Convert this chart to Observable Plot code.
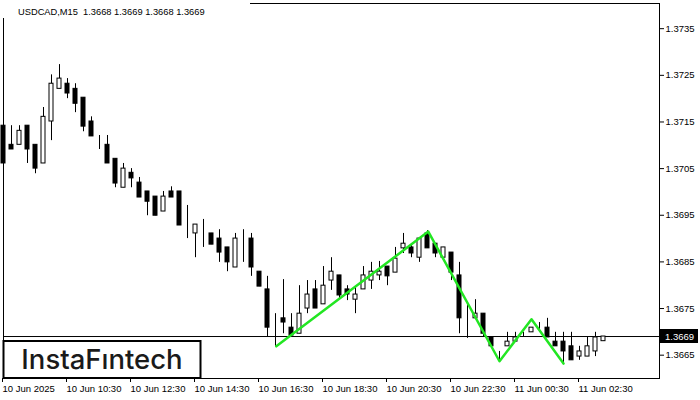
<!DOCTYPE html>
<html><head><meta charset="utf-8">
<script src="https://cdn.jsdelivr.net/npm/d3@7"></script>
<script src="https://cdn.jsdelivr.net/npm/@observablehq/plot@0.6"></script>
<style>
body{margin:0;background:#fff;}
#chart{width:700px;height:400px;position:relative;}
svg{display:block;}
</style>
</head><body><div id="chart"></div>
<script>
// USDCAD M15 candles, index 0 = 10 Jun 08:30, 15 minutes apart
const opens  = [1.37142,1.37101,1.37101,1.37142,1.37101,1.37061,1.37151,1.37221,1.37232,1.37221,
                1.37202,1.37151,1.37112,1.37101,1.37071,1.37009,1.37041,1.37020,1.37001,1.36990,
                1.36958,1.37001,1.37001,1.36919,1.36911,1.36919,1.36911,1.36900,1.36881,1.36838,
                1.36911,1.36900,1.36829,1.36791,1.36720,1.36729,1.36709,1.36696,1.36750,1.36791,
                1.36759,1.36810,1.36821,1.36791,1.36769,1.36791,1.36810,1.36821,1.36840,1.36827,
                1.36879,1.36881,1.36859,1.36911,1.36889,1.36859,1.36870,1.36821,1.36718,1.36729,
                1.36739,1.36688,1.36658,1.36669,1.36679,1.36699,1.36699,1.36720,1.36709,1.36679,
                1.36679,1.36669,1.36647,1.36647,1.36658,1.36680];
const highs  = [1.37142,1.37142,1.37142,1.37142,1.37101,1.37181,1.37251,1.37273,1.37243,1.37232,
                1.37202,1.37161,1.37121,1.37121,1.37071,1.37061,1.37050,1.37031,1.37001,1.36990,
                1.37001,1.37011,1.37001,1.36971,1.36930,1.36941,1.36911,1.36919,1.36881,1.36911,
                1.36919,1.36911,1.36829,1.36819,1.36739,1.36812,1.36739,1.36799,1.36810,1.36810,
                1.36840,1.36859,1.36821,1.36799,1.36795,1.36840,1.36849,1.36851,1.36840,1.36881,
                1.36911,1.36889,1.36900,1.36917,1.36889,1.36881,1.36870,1.36849,1.36761,1.36769,
                1.36739,1.36688,1.36658,1.36699,1.36699,1.36699,1.36709,1.36720,1.36729,1.36699,
                1.36699,1.36699,1.36669,1.36688,1.36699,1.36690];
const lows   = [1.37061,1.37091,1.37101,1.37061,1.37039,1.37061,1.37110,1.37221,1.37200,1.37170,
                1.37129,1.37119,1.37091,1.37061,1.37009,1.37009,1.37009,1.36988,1.36949,1.36949,
                1.36958,1.36988,1.36928,1.36900,1.36859,1.36881,1.36887,1.36849,1.36829,1.36838,
                1.36849,1.36819,1.36797,1.36690,1.36669,1.36696,1.36688,1.36696,1.36739,1.36750,
                1.36759,1.36789,1.36771,1.36767,1.36739,1.36791,1.36791,1.36810,1.36799,1.36827,
                1.36868,1.36859,1.36849,1.36879,1.36859,1.36859,1.36810,1.36696,1.36686,1.36729,
                1.36690,1.36669,1.36639,1.36669,1.36679,1.36688,1.36699,1.36699,1.36688,1.36669,
                1.36634,1.36639,1.36639,1.36647,1.36647,1.36680];
const closes = [1.37061,1.37091,1.37131,1.37091,1.37050,1.37161,1.37232,1.37243,1.37211,1.37189,
                1.37140,1.37119,1.37112,1.37061,1.37018,1.37050,1.37029,1.36988,1.36979,1.36949,
                1.36990,1.36988,1.36928,1.36919,1.36930,1.36919,1.36887,1.36870,1.36849,1.36900,
                1.36911,1.36838,1.36797,1.36709,1.36720,1.36720,1.36692,1.36739,1.36780,1.36750,
                1.36799,1.36829,1.36778,1.36780,1.36780,1.36821,1.36829,1.36829,1.36819,1.36857,
                1.36889,1.36868,1.36900,1.36879,1.36868,1.36881,1.36827,1.36729,1.36718,1.36739,
                1.36696,1.36669,1.36658,1.36679,1.36688,1.36699,1.36709,1.36720,1.36688,1.36669,
                1.36658,1.36639,1.36658,1.36669,1.36688,1.36690];

// x-axis tick positions (candle index) and labels
const xTickIndex  = [0, 8, 16, 24, 32, 40, 48, 56, 64, 72];
const xTickLabels = ["10 Jun 2025","10 Jun 10:30","10 Jun 12:30","10 Jun 14:30","10 Jun 16:30",
                     "10 Jun 18:30","10 Jun 20:30","10 Jun 22:30","11 Jun 00:30","11 Jun 02:30"];
const yTicks = [1.3735, 1.3725, 1.3715, 1.3705, 1.3695, 1.3685, 1.3675, 1.3665];

// pattern (green zig-zag)
const patternIndex = [34.1, 53.1, 62.0, 66.0, 70.0];
const patternPrice = [1.36669, 1.36915, 1.36637, 1.36727, 1.36632];

const lastPrice = 1.3669;
const titleText = "USDCAD,M15  1.3668 1.3669 1.3668 1.3669";

const candles = opens.map((o, i) => ({i, open: o, high: highs[i], low: lows[i], close: closes[i]}));
const pattern = patternIndex.map((x, k) => ({i: x, price: patternPrice[k]}));
const labelOf = new Map(xTickIndex.map((t, k) => [t, xTickLabels[k]]));

const FONT = "'Liberation Sans', Arial, sans-serif";

const plot = Plot.plot({
  width: 700, height: 400,
  marginLeft: 3, marginRight: 41, marginTop: 3, marginBottom: 22,
  style: {fontFamily: FONT, fontSize: "9.5px", background: "white", color: "black"},
  x: {type: "linear", domain: [0, 82]},
  y: {domain: [1.36600, 1.37404]},
  marks: [
    Plot.ruleY([lastPrice], {stroke: "black", strokeWidth: 1}),
    Plot.ruleX(candles, {x: "i", y1: "low", y2: "high", stroke: "black", strokeWidth: 1}),
    Plot.rect(candles, {
      x1: d => d.i - 0.25, x2: d => d.i + 0.25,
      y1: "open", y2: "close",
      fill: d => d.close < d.open ? "black" : "white",
      stroke: "black", strokeWidth: 1
    }),
    Plot.line(pattern, {x: "i", y: "price", stroke: "#22e622", strokeWidth: 2.5}),
    Plot.frame({stroke: "black", strokeWidth: 1}),
    Plot.axisY({anchor: "right", ticks: yTicks, tickFormat: d3.format(".4f"), tickSize: 4, tickPadding: 2, label: null}),
    Plot.axisX({anchor: "bottom", ticks: xTickIndex, tickFormat: d => labelOf.get(d), tickSize: 4, tickPadding: 3, textAnchor: "start", dx: -1, label: null})
  ]
});
document.getElementById("chart").appendChild(plot);

const svg = d3.select(plot);
const ys = plot.scale("y");
const yy = ys.apply(lastPrice);

// current price label
svg.append("rect").attr("x", 660).attr("y", Math.round(yy) - 7).attr("width", 38).attr("height", 14).attr("fill", "black");
svg.append("text").attr("x", 665).attr("y", Math.round(yy) + 3.5).attr("fill", "white").attr("text-anchor", "start")
  .attr("font-size", "9.5px").attr("font-family", FONT).text(d3.format(".4f")(lastPrice));

// title
svg.append("rect").attr("x", 0).attr("y", 0).attr("width", 250).attr("height", 18).attr("fill", "white");
svg.append("text").attr("x", 18).attr("y", 15).attr("fill", "black").attr("text-anchor", "start")
  .attr("font-size", "9.3px").attr("font-family", FONT).text(titleText);

// logo
svg.append("rect").attr("x", 3.5).attr("y", 341).attr("width", 197).attr("height", 37).attr("fill", "white")
  .attr("stroke", "black").attr("stroke-width", 2);
svg.append("text").attr("x", 102).attr("y", 369).attr("text-anchor", "middle").attr("fill", "#1a1a1a")
  .attr("font-size", "27.5px").attr("font-weight", 500).attr("font-family", "Inter, 'Noto Sans', sans-serif").text("InstaFıntech");
</script>
</body></html>
